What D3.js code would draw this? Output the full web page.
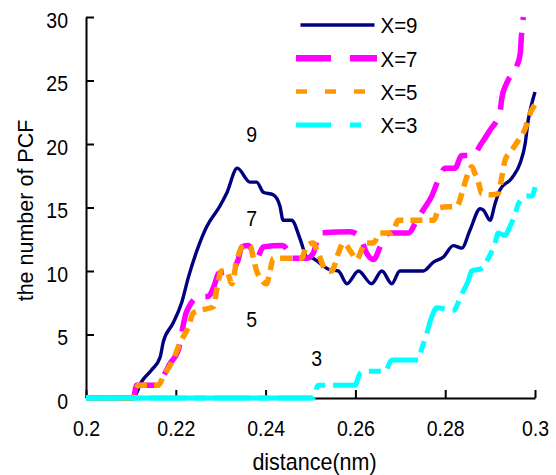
<!DOCTYPE html>
<html>
<head>
<meta charset="utf-8">
<script src="https://cdn.jsdelivr.net/npm/d3@7"></script>
<style>
  html, body { margin: 0; padding: 0; background: #fff; }
  svg { display: block; font-family: "Liberation Sans", Arial, sans-serif; }
</style>
</head>
<body>
<svg id="chart" width="556" height="475"></svg>
<script>
// Axis ticks
const xTicks = [0.2, 0.22, 0.24, 0.26, 0.28, 0.3];
const yTicks = [0, 5, 10, 15, 20, 25, 30];
const xTickLabels = ["0.2", "0.22", "0.24", "0.26", "0.28", "0.3"];
const yTickLabels = ["0", "5", "10", "15", "20", "25", "30"];

// Series names (legend order)
const seriesNames = ["X=9", "X=7", "X=5", "X=3"];

// X=9
const dist9 = [0.2000, 0.2105, 0.2124, 0.2146, 0.2165, 0.2172, 0.2194, 0.2213, 0.2228, 0.2247, 0.2269, 0.2298, 0.2313, 0.2337,
  0.2365, 0.2380, 0.2395, 0.2417, 0.2432, 0.2439, 0.2458, 0.2477, 0.2492, 0.2506, 0.2521, 0.2543, 0.2562, 0.2581, 0.2607,
  0.2636, 0.2659, 0.2681, 0.2699, 0.2751, 0.2774, 0.2796, 0.2818, 0.2837, 0.2855, 0.2878, 0.2885, 0.2900, 0.2911, 0.2922,
  0.2948, 0.2967, 0.2978, 0.2985, 0.2993, 0.3000];
const count9 = [0, 0, 1.3, 2.2, 3.2, 4.4, 5.9, 7.5, 9.5, 11.6, 13.5, 15.1, 16.1, 18.1,
  17.0, 17.0, 16.2, 16.0, 15.1, 14.0, 14.0, 12.5, 11.1, 11.0, 10.6, 10.1, 10.0, 9.0, 10.0,
  9.0, 10.0, 9.0, 10.0, 10.0, 10.7, 11.1, 12.0, 11.8, 13.2, 14.9, 14.8, 14.0, 15.3, 16.4,
  17.3, 18.5, 20.0, 21.9, 23.2, 24.1];

// X=7
const dist7 = [0.2000, 0.2105, 0.2113, 0.2157, 0.2172, 0.2187, 0.2206, 0.2213, 0.2224, 0.2254, 0.2272, 0.2287, 0.2295, 0.2321,
  0.2339, 0.2347, 0.2362, 0.2380, 0.2395, 0.2436, 0.2451, 0.2454, 0.2492, 0.2506, 0.2521, 0.2588, 0.2610, 0.2625, 0.2640,
  0.2659, 0.2677, 0.2718, 0.2737, 0.2751, 0.2770, 0.2785, 0.2800, 0.2822, 0.2837, 0.2863, 0.2878, 0.2900, 0.2922, 0.2926,
  0.2937, 0.2959, 0.2967, 0.2970, 0.2974];
const count7 = [0, 0, 1.0, 1.0, 1.7, 2.7, 3.8, 5.1, 6.8, 8.0, 8.0, 9.0, 9.8, 10.0,
  10.9, 11.9, 12.0, 11.0, 11.9, 12.0, 11.5, 11.0, 11.0, 11.4, 13.0, 13.1, 12.7, 11.4, 10.9,
  12.2, 13.0, 13.0, 14.0, 14.8, 15.9, 17.2, 18.1, 18.1, 19.1, 19.1, 19.9, 21.1, 22.5, 23.6,
  24.8, 26.1, 27.1, 28.6, 30.0];

// X=5
const dist5 = [0.2000, 0.2102, 0.2117, 0.2161, 0.2172, 0.2194, 0.2209, 0.2228, 0.2239, 0.2254, 0.2284, 0.2291, 0.2302, 0.2313,
  0.2325, 0.2336, 0.2354, 0.2365, 0.2373, 0.2380, 0.2402, 0.2410, 0.2417, 0.2480, 0.2492, 0.2506, 0.2517, 0.2536, 0.2547,
  0.2562, 0.2573, 0.2592, 0.2603, 0.2614, 0.2621, 0.2640, 0.2655, 0.2681, 0.2696, 0.2774, 0.2788, 0.2826, 0.2837, 0.2848,
  0.2859, 0.2866, 0.2874, 0.2881, 0.2904, 0.2918, 0.2926, 0.2933, 0.2948, 0.2963, 0.2978, 0.2989, 0.3000];
const count5 = [0, 0, 1.0, 1.0, 1.7, 3.0, 4.3, 5.6, 6.7, 6.9, 7.2, 8.5, 10.0, 10.0,
  9.0, 10.9, 12.0, 12.0, 11.0, 10.0, 9.0, 10.0, 11.0, 11.0, 12.0, 12.2, 11.4, 10.0, 10.0,
  11.4, 12.2, 11.4, 10.9, 11.7, 12.2, 12.2, 13.0, 13.0, 14.0, 14.0, 15.0, 15.1, 16.1, 17.4,
  18.2, 17.7, 17.0, 16.1, 16.0, 16.1, 17.4, 18.7, 19.5, 20.3, 21.2, 22.4, 23.1];

// X=3
const dist3 = [0.2000, 0.2506, 0.2517, 0.2599, 0.2610, 0.2625, 0.2666, 0.2681, 0.2740, 0.2748, 0.2759, 0.2770, 0.2781, 0.2818,
  0.2837, 0.2851, 0.2859, 0.2881, 0.2896, 0.2911, 0.2918, 0.2933, 0.2944, 0.2956, 0.2963, 0.2982, 0.2993, 0.3000];
const count3 = [0, 0, 1.0, 1.0, 1.9, 2.1, 2.1, 3.0, 3.0, 3.9, 5.1, 6.4, 7.1, 6.9,
  8.2, 9.2, 10.0, 10.2, 11.0, 12.2, 13.0, 12.8, 13.5, 14.5, 15.3, 15.9, 15.9, 16.6];

// In-plot series labels
const curveLabels = ["9", "7", "5", "3"];
const curveLabelPos = [[0.2369, 17.6], [0.2369, 11.0], [0.2369, 3.1], [0.2514, 0.0]];

// Styling
const colors = ["#000080", "#FF00FF", "#FF9900", "#00FFFF"];
const widths = [3.4, 5.5, 5.5, 5];
const plotDash = [null, "34,13", "12,7", "36,8,12,8"];
const legendWidths = [3.3, 6.5, 4.5, 5];
const legendDash = [null, "35,19", "11,18", "35,19,11,19"];

const svg = d3.select("#chart");
const W = 556, H = 475;
const plot = { left: 86, right: 535, top: 17, bottom: 398 };
const TS = 1.1; // vertical text stretch

const x = d3.scaleLinear().domain([0.2, 0.3]).range([plot.left, plot.right]);
const y = d3.scaleLinear().domain([0, 30]).range([plot.bottom, plot.top]);

svg.append("rect").attr("width", W).attr("height", H).attr("fill", "#fff");

const series = [
  { name: seriesNames[0], xs: dist9, ys: count9 },
  { name: seriesNames[1], xs: dist7, ys: count7 },
  { name: seriesNames[2], xs: dist5, ys: count5 },
  { name: seriesNames[3], xs: dist3, ys: count3 }
].map((s, i) => ({
  ...s,
  points: s.xs.map((d, j) => [d, s.ys[j]]),
  color: colors[i], width: widths[i], dash: plotDash[i],
  lwidth: legendWidths[i], ldash: legendDash[i]
}));

// Axes
const xAxis = d3.axisBottom(x).tickValues(xTicks)
  .tickFormat((d, i) => xTickLabels[i]).tickSize(-8).tickSizeOuter(0);
const yAxis = d3.axisLeft(y).tickValues(yTicks)
  .tickFormat((d, i) => yTickLabels[i]).tickSize(-8).tickSizeOuter(0);

const gx = svg.append("g").attr("transform", `translate(0,${plot.bottom})`).call(xAxis);
const gy = svg.append("g").attr("transform", `translate(${plot.left},0)`).call(yAxis);

[gx, gy].forEach(g => {
  g.select(".domain").attr("stroke", "#000").attr("stroke-width", 2);
  g.selectAll(".tick line").attr("stroke", "#000").attr("stroke-width", 2);
  g.selectAll(".tick text")
    .attr("fill", "#000")
    .style("font-family", "'Liberation Sans', Arial, sans-serif")
    .style("font-size", "19.5px");
});
gx.selectAll(".tick text")
  .attr("dy", 0).attr("y", 38.5 / TS)
  .attr("transform", `scale(1,${TS})`);
gy.selectAll(".tick text")
  .attr("dy", 0).attr("x", -18).attr("y", 10 / TS)
  .attr("transform", `scale(1,${TS})`);

// Axis titles
svg.append("text")
  .attr("x", (plot.left + plot.right) / 2 + 4).attr("y", 470 / TS)
  .attr("transform", `scale(1,${TS})`)
  .attr("text-anchor", "middle")
  .style("font-size", "21.5px")
  .text("distance(nm)");

svg.append("text")
  .attr("transform", `translate(33,${(plot.top + plot.bottom) / 2 + 3}) rotate(-90)`)
  .attr("text-anchor", "middle")
  .style("font-size", "21.5px")
  .text("the number of PCF");

// Lines
const line = d3.line().x(d => x(d[0])).y(d => y(d[1])).curve(d3.curveMonotoneX);

const lines = svg.append("g");
series.forEach(s => {
  lines.append("path")
    .datum(s.points)
    .attr("fill", "none")
    .attr("stroke", s.color)
    .attr("stroke-width", s.width)
    .attr("stroke-linejoin", "round")
    .attr("stroke-dasharray", s.dash)
    .attr("d", line);
  // the leading zero run of each dashed series is drawn as a continuous stroke
  if (s.dash) {
    let k = 0;
    while (k < s.points.length && s.points[k][1] === 0) k++;
    const run = s.points.slice(0, k);
    if (run.length > 1) {
      lines.append("path")
        .datum(run)
        .attr("fill", "none")
        .attr("stroke", s.color)
        .attr("stroke-width", s.width)
        .attr("d", line);
    }
  }
});

// In-plot labels
curveLabels.forEach((t, i) => {
  const p = curveLabelPos[i];
  svg.append("text")
    .attr("x", x(p[0]))
    .attr("y", (y(p[1]) - 32) / TS)
    .attr("transform", `scale(1,${TS})`)
    .attr("text-anchor", "middle")
    .style("font-size", "19.5px")
    .text(t);
});

// Legend
const legendRowY = [25, 58.3, 91.5, 125];
const lg = svg.append("g");
series.forEach((s, i) => {
  const ly = legendRowY[i];
  lg.append("line")
    .attr("x1", i === 0 ? 300.5 : 296).attr("x2", i === 0 ? 374.5 : 377)
    .attr("y1", ly).attr("y2", ly)
    .attr("stroke", s.color)
    .attr("stroke-width", s.lwidth)
    .attr("stroke-dasharray", s.ldash);
  lg.append("text")
    .attr("x", 380.5)
    .attr("y", (ly + 8.3) / TS)
    .attr("transform", `scale(1,${TS})`)
    .style("font-size", "20.5px")
    .text(s.name);
});
</script>
</body>
</html>
